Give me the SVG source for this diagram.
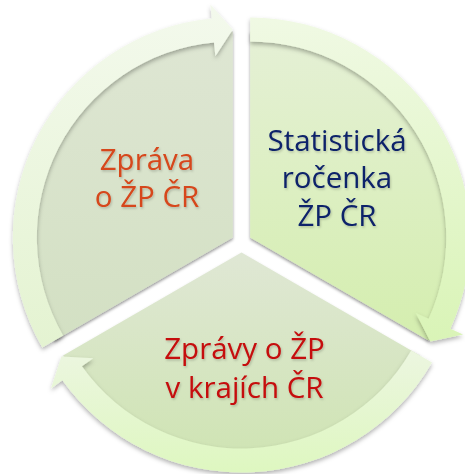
<svg xmlns="http://www.w3.org/2000/svg" width="465" height="474" viewBox="0 0 465 474">
  <defs>
    <style>
      .lbl { font-family: "Open Sans", "Liberation Sans", sans-serif; font-size: 29.5px; text-anchor: middle; filter: url(#tshadow); }
      .pie { filter: url(#shadow); }
      .band { filter: url(#bshadow); }
    </style>
    <filter id="shadow" x="-10%" y="-10%" width="120%" height="120%">
      <feDropShadow dx="0" dy="2" stdDeviation="1.6" flood-color="#000" flood-opacity="0.4"/>
    </filter>
    <filter id="bshadow" x="-10%" y="-10%" width="120%" height="120%">
      <feDropShadow dx="0" dy="2.5" stdDeviation="2.2" flood-color="#000" flood-opacity="0.3"/>
    </filter>
    <filter id="tshadow" x="-10%" y="-20%" width="120%" height="140%">
      <feDropShadow dx="1" dy="1.5" stdDeviation="1.2" flood-color="#000" flood-opacity="0.2"/>
    </filter>
    <linearGradient id="gPieL" gradientUnits="userSpaceOnUse" x1="0" y1="30" x2="0" y2="340">
      <stop offset="0" stop-color="#dee6d3"/>
      <stop offset="1" stop-color="#d3e0c3"/>
    </linearGradient>
    <linearGradient id="gBandL" gradientUnits="userSpaceOnUse" x1="0" y1="10" x2="0" y2="350">
      <stop offset="0" stop-color="#f3f9ec"/>
      <stop offset="1" stop-color="#e4f3d1"/>
    </linearGradient>
    <linearGradient id="gPieR" gradientUnits="userSpaceOnUse" x1="0" y1="30" x2="0" y2="345">
      <stop offset="0" stop-color="#e5f0d6"/>
      <stop offset="1" stop-color="#d4eeae"/>
    </linearGradient>
    <linearGradient id="gBandR" gradientUnits="userSpaceOnUse" x1="0" y1="15" x2="0" y2="345">
      <stop offset="0" stop-color="#f0f9e4"/>
      <stop offset="1" stop-color="#d9f4b6"/>
    </linearGradient>
    <linearGradient id="gPieB" gradientUnits="userSpaceOnUse" x1="0" y1="255" x2="0" y2="460">
      <stop offset="0" stop-color="#dfe7d4"/>
      <stop offset="1" stop-color="#cfe4b3"/>
    </linearGradient>
    <linearGradient id="gBandB" gradientUnits="userSpaceOnUse" x1="0" y1="350" x2="0" y2="472">
      <stop offset="0" stop-color="#ecf6e0"/>
      <stop offset="1" stop-color="#def7c0"/>
    </linearGradient>
  </defs>

  <g id="connectors">
    <!-- arrows are the outer bands of each segment -->
  </g>

  <g id="node-zprava">
    <path class="pie" fill="url(#gPieL)" d="M232.8,237.5 L54.4,340.5 A206,206 0 0 1 232.8,31.5 Z"/>
    <path class="band" fill="url(#gBandL)" d="M42.3,347.5 A220,220 0 0 1 211.7,18.5 L210.4,4.6 L232.8,29.5 L215.4,56.3 L214.0,42.4 A196,196 0 0 0 63.1,335.5 Z"/>
    <text class="lbl" fill="#d6461a" x="147" y="170">Zpráva</text>
    <text class="lbl" fill="#d6461a" x="147" y="207">o ŽP ČR</text>
  </g>

  <g id="node-rocenka">
    <path class="pie" fill="url(#gPieR)" d="M250.2,237.5 L250.2,31.5 A206,206 0 0 1 428.6,340.5 Z"/>
    <path class="band" fill="url(#gBandR)" d="M250.2,17.5 A220,220 0 0 1 450.4,328.7 L463.1,334.5 L430.3,341.5 L415.8,313.0 L428.6,318.8 A196,196 0 0 0 250.2,41.5 Z"/>
    <text class="lbl" fill="#10246a" x="337" y="151">Statistická</text>
    <text class="lbl" fill="#10246a" x="337" y="188">ročenka</text>
    <text class="lbl" fill="#10246a" x="337" y="226">ŽP ČR</text>
  </g>

  <g id="node-kraje">
    <path class="pie" fill="url(#gPieB)" d="M241.5,252.5 L419.9,355.5 A206,206 0 0 1 63.1,355.5 Z"/>
    <path class="band" fill="url(#gBandB)" d="M432.0,362.5 A220,220 0 0 1 62.4,380.3 L51.0,388.4 L61.4,356.5 L93.3,358.2 L81.9,366.3 A196,196 0 0 0 411.2,350.5 Z"/>
    <text class="lbl" fill="#c50a0a" x="244.5" y="359">Zprávy o ŽP</text>
    <text class="lbl" fill="#c50a0a" x="244.5" y="398">v krajích ČR</text>
  </g>
</svg>
